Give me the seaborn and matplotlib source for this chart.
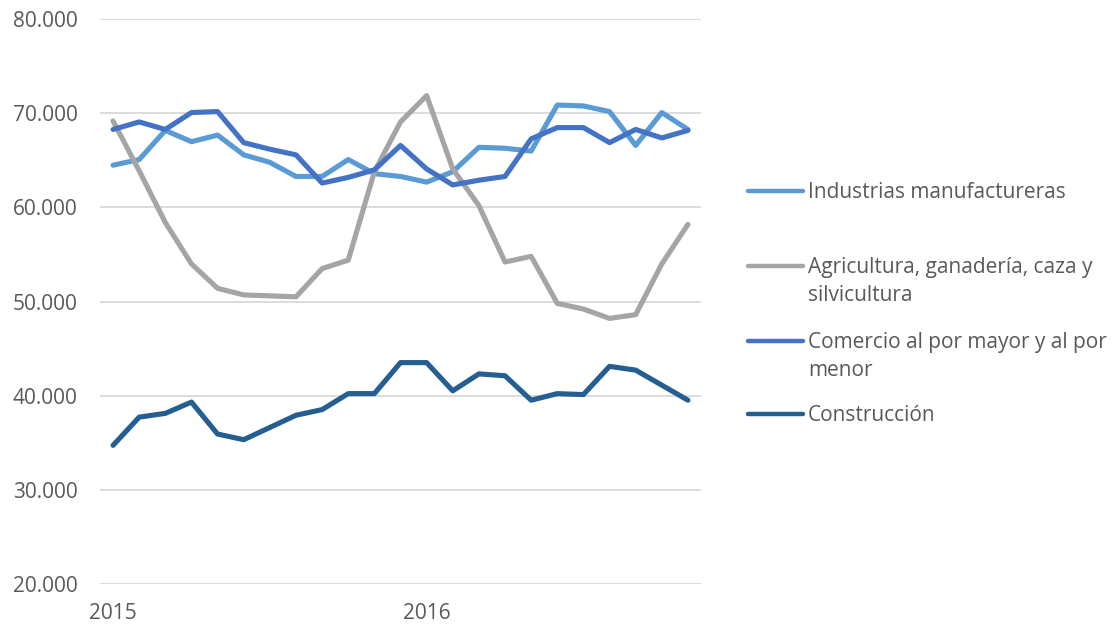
import numpy as np
import pandas as pd
import matplotlib
matplotlib.use("Agg")
import matplotlib.pyplot as plt
from matplotlib.lines import Line2D
from matplotlib.ticker import FuncFormatter
import seaborn as sns

# monthly series, Jan 2015 .. Nov 2016
months = [f"{y}-{m:02d}" for y in (2015, 2016) for m in range(1, 13)][:23]

industrias = [64500, 65100, 68200, 67000, 67700, 65600, 64800, 63300, 63300, 65100, 63600, 63300,
              62700, 63800, 66400, 66300, 66000, 70900, 70800, 70200, 66600, 70100, 68300]
agricultura = [69200, 63900, 58400, 54000, 51400, 50700, 50600, 50500, 53500, 54400, 63800, 69100,
               71900, 64100, 60200, 54200, 54800, 49800, 49200, 48200, 48600, 54000, 58200]
comercio = [68300, 69100, 68300, 70100, 70200, 66900, 66200, 65600, 62600, 63200, 64000, 66600,
            64100, 62400, 62900, 63300, 67300, 68500, 68500, 66900, 68300, 67400, 68200]
construccion = [34700, 37700, 38100, 39300, 35900, 35300, 36600, 37900, 38500, 40200, 40200, 43500,
                43500, 40500, 42300, 42100, 39500, 40200, 40100, 43100, 42700, 41100, 39500]

series_names = ["Industrias manufactureras",
                "Agricultura, ganadería, caza y\nsilvicultura",
                "Comercio al por mayor y al por\nmenor",
                "Construcción"]
colors = ["#5B9BD5", "#A5A5A5", "#4472C4", "#255E91"]
year_ticks = [0, 12]
year_labels = ["2015", "2016"]

df = pd.concat([
    pd.DataFrame({"mes": months, "pos": range(len(months)), "valor": vals, "serie": name})
    for name, vals in zip(series_names, [industrias, agricultura, comercio, construccion])
])

sns.set_style("white")
plt.rcParams["font.family"] = ["Open Sans", "DejaVu Sans"]
text_color = "#595959"

fig = plt.figure(figsize=(11.12, 6.26), dpi=100)
ax = fig.add_axes([100 / 1112, 1 - 584 / 626, 601 / 1112, 565 / 626])

sns.lineplot(data=df, x="pos", y="valor", hue="serie", hue_order=series_names,
             palette=colors, linewidth=3.7, legend=False, ax=ax,
             solid_capstyle="round", solid_joinstyle="round")

ax.set_xlim(-0.5, len(months) - 0.5)
ax.set_ylim(19950, 80050)
ax.set_yticks(range(20000, 80001, 10000))
ax.yaxis.set_major_formatter(FuncFormatter(lambda v, p: f"{v:,.0f}".replace(",", ".")))
ax.set_xticks(year_ticks)
ax.set_xticklabels(year_labels)
ax.grid(axis="y", color="#D9D9D9", linewidth=1.3)
ax.set_axisbelow(True)
for s in ax.spines.values():
    s.set_visible(False)
ax.tick_params(axis="both", length=0, labelsize=15, colors=text_color)
ax.tick_params(axis="y", pad=16)
ax.tick_params(axis="x", pad=14)
ax.set_xlabel("")
ax.set_ylabel("")

# legend drawn to mimic the evenly spaced spreadsheet legend
leg_y = [191, 266, 341, 414]
for name, col, y in zip(series_names, colors, leg_y):
    fy = 1 - y / 626
    fig.add_artist(Line2D([748 / 1112, 803 / 1112], [fy, fy], color=col, linewidth=3.2,
                          solid_capstyle="round", transform=fig.transFigure))
    fig.text(808 / 1112, fy + 9 / 626, name, fontsize=15, color=text_color,
             va="top", ha="left", linespacing=1.45)

fig.savefig("out.png", dpi=100)
